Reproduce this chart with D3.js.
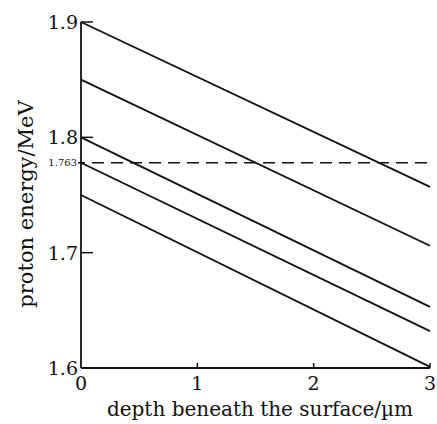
<!DOCTYPE html>
<html><head><meta charset="utf-8">
<script src="https://cdn.jsdelivr.net/npm/d3@7"></script>
<style>body{margin:0;background:#fff}svg{display:block}</style>
</head><body><svg id="c" width="437" height="424" font-family="'DejaVu Serif', 'Liberation Serif', serif"></svg>
<script>
const depthRange = [0, 3];
const startEnergies = [1.9, 1.85, 1.8, 1.778, 1.75];
const endEnergies = [1.757, 1.706, 1.653, 1.632, 1.601];
const xTicks = [0, 1, 2, 3];
const yTicks = [1.6, 1.7, 1.8, 1.9];
const dashedValue = 1.778;
const dashedLabel = "1.763";

const svg = d3.select("#c");
const x = d3.scaleLinear().domain([0, 3]).range([81, 430]);
const y = d3.scaleLinear().domain([1.6, 1.9]).range([368, 22]);
const ink = "#111";

svg.append("line").attr("x1", x(0)).attr("x2", x(0)).attr("y1", y(1.6)).attr("y2", y(1.9)).attr("stroke", ink).attr("stroke-width", 1.8);
svg.append("line").attr("x1", x(0)).attr("x2", x(3)).attr("y1", y(1.6)).attr("y2", y(1.6)).attr("stroke", ink).attr("stroke-width", 1.8);

yTicks.forEach(v => {
  if (v > 1.6) svg.append("line").attr("x1", x(0)).attr("x2", x(0) + 12).attr("y1", y(v)).attr("y2", y(v)).attr("stroke", ink).attr("stroke-width", 1.5);
  svg.append("text").attr("x", x(0) - 3).attr("y", y(v)).attr("dy", "0.36em").attr("text-anchor", "end").attr("font-size", 19).attr("fill", ink).text(v.toFixed(1));
});
xTicks.forEach(v => {
  if (v > 0) svg.append("line").attr("x1", x(v)).attr("x2", x(v)).attr("y1", y(1.6)).attr("y2", y(1.6) - 5).attr("stroke", ink).attr("stroke-width", 1.5);
  svg.append("text").attr("x", x(v)).attr("y", y(1.6) + 22).attr("text-anchor", "middle").attr("font-size", 19).attr("fill", ink).text(v);
});

svg.append("line").attr("x1", x(0) - 3).attr("x2", x(0) + 4).attr("y1", y(dashedValue)).attr("y2", y(dashedValue)).attr("stroke", ink).attr("stroke-width", 1.5);
svg.append("line").attr("x1", x(0) + 11).attr("x2", x(3)).attr("y1", y(dashedValue)).attr("y2", y(dashedValue)).attr("stroke", ink).attr("stroke-width", 1.6).attr("stroke-dasharray", "12,7");
svg.append("text").attr("x", x(0) - 4).attr("y", y(dashedValue)).attr("dy", "0.36em").attr("text-anchor", "end").attr("font-size", 10).attr("fill", ink).text(dashedLabel);

const line = d3.line().x(d => x(d[0])).y(d => y(d[1]));
startEnergies.forEach((s, i) => {
  svg.append("path").attr("d", line([[depthRange[0], s], [depthRange[1], endEnergies[i]]])).attr("fill", "none").attr("stroke", ink).attr("stroke-width", 1.8);
});

svg.append("text").attr("x", 260).attr("y", 416).attr("text-anchor", "middle").attr("font-size", 20).attr("fill", ink).text("depth beneath the surface/µm");
svg.append("text").attr("transform", "translate(33,204) rotate(-90)").attr("text-anchor", "middle").attr("font-size", 21).attr("fill", ink).text("proton energy/MeV");
</script></body></html>
